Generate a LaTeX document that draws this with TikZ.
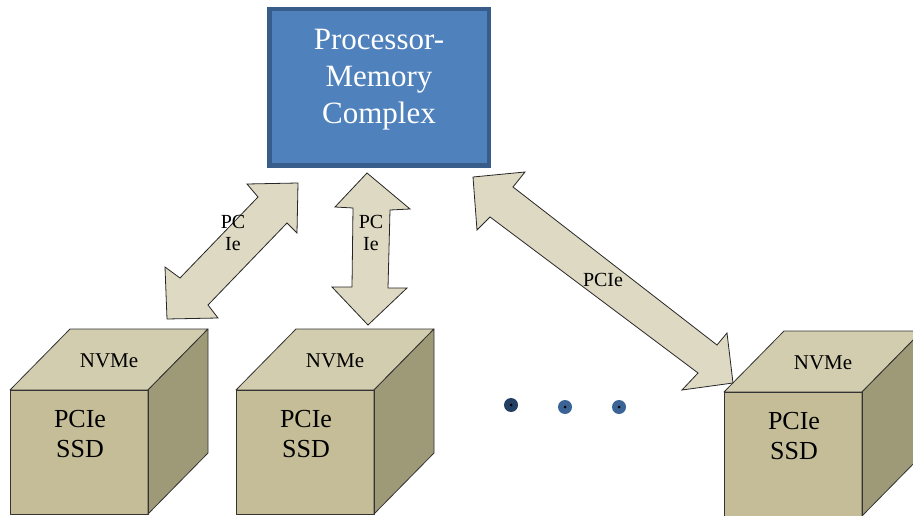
\documentclass[tikz,border=0pt]{standalone}
\usepackage{fontspec}
\setmainfont{Liberation Serif}
\definecolor{boxfill}{HTML}{4F81BD}
\definecolor{boxline}{HTML}{385D8A}
\definecolor{cubefront}{HTML}{C4BD97}
\definecolor{cubetop}{HTML}{D2CDAE}
\definecolor{cuberight}{HTML}{9E9A78}
\definecolor{arrowfill}{HTML}{DDD9C3}
\definecolor{dotdark}{HTML}{233F63}
\definecolor{dotblue}{HTML}{3A6496}
\tikzset{
  face/.style={draw=black!80, line width=0.8pt, line join=round},
  bigarrow/.style={draw=black!85, fill=arrowfill, line width=0.8pt, line join=miter},
  lbl/.style={inner sep=0pt, font=\fontsize{20}{22}\selectfont, align=center},
  cubetext/.style={inner sep=0pt, font=\fontsize{26}{30}\selectfont, align=center},
  nvme/.style={inner sep=0pt, font=\fontsize{21}{24}\selectfont},
  dotmark/.style={circle, inner sep=0pt, minimum size=14pt},
  dotcore/.style={circle, fill=black, inner sep=0pt, minimum size=3pt},
}
\newcommand\ssdcube[3]{%
  \begin{scope}[shift={(#1,#2)}]
    \fill[cubefront] (0,0) rectangle (138,124);
    \draw[face, fill=cubetop] (0,0) -- (60,-61) -- (198,-61) -- (138,0) -- cycle;
    \draw[face, fill=cuberight] (138,0) -- (198,-61) -- (198,63) -- (138,124) -- cycle;
    \draw[face] (0,124) -- (0,0) -- (138,0) -- (138,124) -- cycle;
    \node[nvme] (#3top) at (99,-29) {NVMe};
    \node[cubetext] (#3front) at (70,44) {PCIe\\SSD};
  \end{scope}}
\begin{document}
\begin{tikzpicture}[x=1pt,y=-1pt]
\useasboundingbox (0,0) rectangle (913,516);
\clip (0,0) rectangle (913,516);
% processor-memory complex
\node[draw=boxline, line width=4.5pt, fill=boxfill, minimum width=219.5pt, minimum height=156.5pt, inner sep=0pt] (pmc) at (379,87.5) {};
\node[text=white, align=center, font=\fontsize{31}{37}\selectfont, inner sep=0pt] (pmctext) at (379,80) {Processor-\\Memory\\Complex};
% cubes
\ssdcube{10}{390}{ssda}
\ssdcube{236}{390}{ssdb}
\ssdcube{724}{392}{ssdc}
% arrow 1 (diagonal, left)
\draw[bigarrow] (298,183) -- (297,233) -- (287,223) -- (208,305) -- (218,318) -- (167,319)
  -- (165,267) -- (180,278) -- (258,197) -- (247,184) -- cycle;
\node[lbl] (l1) at (233,233) {PC\\Ie};
% arrow 2 (vertical)
\draw[bigarrow] (367,173) -- (410,209) -- (390,210) -- (388,288) -- (407,288) -- (368,325)
  -- (332,287) -- (352,287) -- (353,208) -- (335,207) -- cycle;
\node[lbl] (l2) at (371,233) {PC\\Ie};
% arrow 3 (diagonal, right)
\draw[bigarrow] (473,177) -- (525,172) -- (513,187) -- (717,345) -- (727,333) -- (733,383)
  -- (682,390) -- (698,373) -- (490,217) -- (477,230) -- cycle;
\node[lbl] (l3) at (603,280) {PCIe};
% ellipsis dots
\node[dotmark, fill=dotdark] (d1) at (511,405) {};
\node[dotmark, fill=dotblue] (d2) at (565,407) {};
\node[dotmark, fill=dotblue] (d3) at (619,407) {};
\node[dotcore] at (d1) {};
\node[dotcore] at (d2) {};
\node[dotcore] at (d3) {};
\end{tikzpicture}
\end{document}
